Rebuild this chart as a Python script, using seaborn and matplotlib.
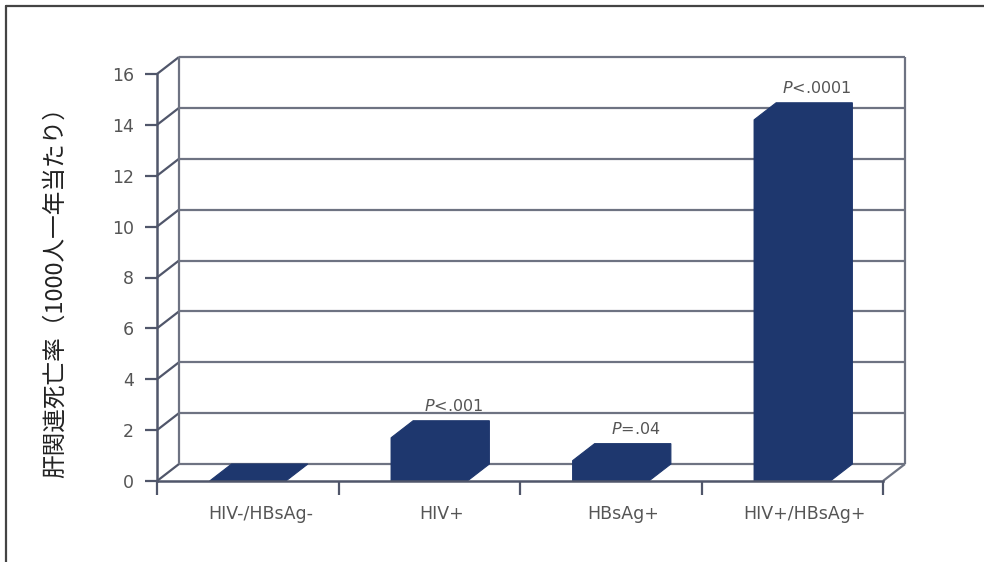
import numpy as np
import pandas as pd
import matplotlib
matplotlib.use("Agg")
import matplotlib.pyplot as plt
from matplotlib.patches import Polygon
from matplotlib.lines import Line2D
from matplotlib.transforms import ScaledTranslation
import seaborn as sns

# Liver-related mortality per 1000 person-years by infection group
groups = ["HIV-/HBsAg-", "HIV+", "HBsAg+", "HIV+/HBsAg+"]
rates = [0.0, 1.7, 0.8, 14.2]
p_labels = ["", r"$\mathit{P}$<.001", r"$\mathit{P}$=.04", r"$\mathit{P}$<.0001"]
y_ticks = [0, 2, 4, 6, 8, 10, 12, 14, 16]
y_label = "肝関連死亡率（1000人一年当たり）"

NAVY = "#1e376e"
GRID = "#6e7382"
AXIS = "#50566a"
TEXT = "#555555"

sns.set_theme(style="white")
plt.rcParams["font.family"] = ["DejaVu Sans"]
plt.rcParams["mathtext.fontset"] = "dejavusans"

W, H, DPI = 984, 562, 100
fig = plt.figure(figsize=(W / DPI, H / DPI), dpi=DPI)
fig.patch.set_facecolor("white")

# front plane of the pseudo-3D box
x0_px, x1_px, y0_px, y1_px = 157, 883, 481, 74
ax = fig.add_axes([x0_px / W, 1 - y0_px / H, (x1_px - x0_px) / W, (y0_px - y1_px) / H])
ax.set_facecolor("none")

df = pd.DataFrame({"group": groups, "rate": rates})
sns.barplot(data=df, x="group", y="rate", color=NAVY, saturation=1,
            width=0.42, ax=ax, zorder=3, edgecolor=NAVY, linewidth=0.8)

ax.set_xlim(-0.5, len(groups) - 0.5)
ax.set_ylim(0, 16)

# depth offset (pixels) expressed in data units
depth_px = (22, 17)
ddx = depth_px[0] / ((x1_px - x0_px) / len(groups))
ddy = depth_px[1] / ((y0_px - y1_px) / 16)
xl, xr = -0.5, len(groups) - 0.5

def seg(xs, ys, color=GRID, lw=1.6, z=1):
    ax.add_line(Line2D(xs, ys, color=color, lw=lw, zorder=z, clip_on=False,
                       solid_capstyle="butt"))

# back wall grid with connectors to the front axis
for v in y_ticks:
    seg([xl, xl + ddx], [v, v + ddy], color=AXIS)
    seg([xl + ddx, xr + ddx], [v + ddy, v + ddy])
seg([xl + ddx, xl + ddx], [ddy, 16 + ddy], color=GRID)
seg([xr + ddx, xr + ddx], [ddy, 16 + ddy], color=GRID)
seg([xr, xr + ddx], [0, ddy], color=GRID)

# full box silhouette of each bar (front, top and side in one colour)
for patch, p in zip(ax.patches, p_labels):
    bx = patch.get_x()
    bw = patch.get_width()
    h = patch.get_height()
    outline = [(bx, 0), (bx, h), (bx + ddx, h + ddy), (bx + bw + ddx, h + ddy),
               (bx + bw + ddx, ddy), (bx + bw, 0)]
    ax.add_patch(Polygon(outline, closed=True, facecolor=NAVY, edgecolor=NAVY,
                         lw=0.8, zorder=3, clip_on=False))
    if p:
        ax.annotate(p, xy=(bx + bw / 2 + ddx, h + ddy), xytext=(2, 5),
                    textcoords="offset points", ha="center", va="bottom",
                    fontsize=11.5, color=TEXT, zorder=5)

for side_name in ["top", "right"]:
    ax.spines[side_name].set_visible(False)
for side_name in ["left", "bottom"]:
    ax.spines[side_name].set_color(AXIS)
    ax.spines[side_name].set_linewidth(1.8)
    ax.spines[side_name].set_zorder(4)

ax.set_yticks(y_ticks)
ax.set_yticklabels([str(t) for t in y_ticks])
ax.tick_params(axis="y", direction="out", length=8.5, width=1.6, color=AXIS,
               pad=8, labelsize=12.5, labelcolor=TEXT, left=True)
ax.set_xticks(range(len(groups)))
ax.set_xticklabels(groups)
ax.set_xticks(np.arange(-0.5, len(groups)), minor=True)
ax.tick_params(axis="x", which="major", length=0, pad=17, labelsize=12.5,
               labelcolor=TEXT)
ax.tick_params(axis="x", which="minor", direction="out", length=10, width=1.6,
               color=AXIS, bottom=True)
shift = ScaledTranslation(9 / 72, 0, fig.dpi_scale_trans)
for lab in ax.get_xticklabels():
    lab.set_transform(lab.get_transform() + shift)
ax.set_xlabel("")
ax.set_ylabel("")
ax.grid(False)

fig.text(55 / W, 1 - 287 / H, y_label, rotation=90, ha="center", va="center",
         fontsize=17, color="#222222",
         family=["Noto Sans CJK JP", "DejaVu Sans"])

# outer frame lines along the top and left edges
fig.add_artist(Line2D([6 / W, 1], [1 - 6 / H, 1 - 6 / H], transform=fig.transFigure,
                      color="#444444", lw=1.6))
fig.add_artist(Line2D([6 / W, 6 / W], [0, 1 - 6 / H], transform=fig.transFigure,
                      color="#444444", lw=1.6))

fig.savefig("out.png", dpi=DPI, facecolor="white")
